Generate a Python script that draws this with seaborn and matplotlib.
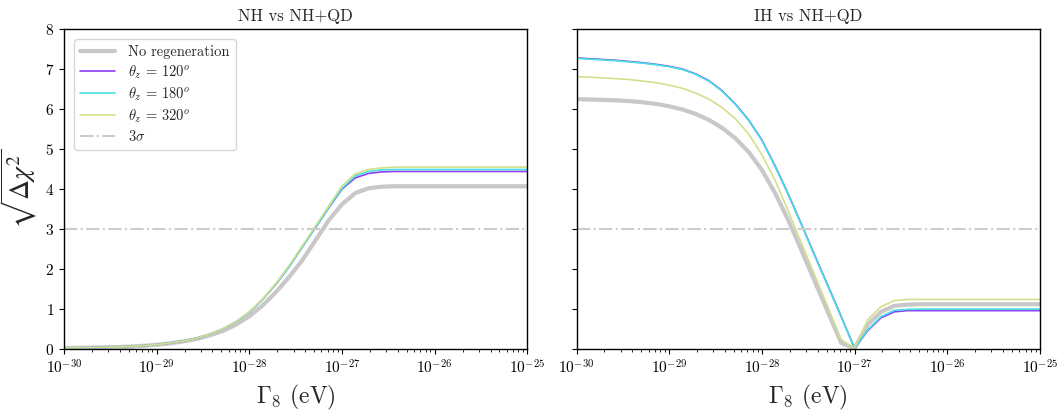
import numpy as np
import pandas as pd
import matplotlib
matplotlib.use("Agg")
import matplotlib.pyplot as plt
import seaborn as sns

# ---- data ----
log_gamma = [-30.0, -29.857, -29.714, -29.571, -29.429, -29.286, -29.143, -29.0,
             -28.857, -28.714, -28.571, -28.429, -28.286, -28.143, -28.0, -27.857,
             -27.714, -27.571, -27.429, -27.286, -27.143, -27.0, -26.857, -26.714,
             -26.571, -26.429, -26.286, -26.143, -26.0, -25.857, -25.714, -25.571,
             -25.429, -25.286, -25.143, -25.0]

# Left panel: NH vs NH+QD
nh_noregen = [0.025, 0.03, 0.035, 0.04, 0.05, 0.06, 0.08, 0.105, 0.14, 0.19, 0.25, 0.34,
              0.45, 0.61, 0.82, 1.09, 1.42, 1.80, 2.22, 2.72, 3.22, 3.62, 3.90, 4.02,
              4.06, 4.07, 4.07, 4.07, 4.07, 4.07, 4.07, 4.07, 4.07, 4.07, 4.07, 4.07]
nh_120 = [0.025, 0.03, 0.035, 0.04, 0.05, 0.065, 0.085, 0.11, 0.15, 0.20, 0.27, 0.37,
          0.50, 0.68, 0.92, 1.24, 1.62, 2.06, 2.55, 3.04, 3.53, 4.00, 4.28, 4.39,
          4.43, 4.44, 4.44, 4.44, 4.44, 4.44, 4.44, 4.44, 4.44, 4.44, 4.44, 4.44]
nh_180 = [0.025, 0.03, 0.035, 0.04, 0.05, 0.065, 0.085, 0.11, 0.15, 0.20, 0.27, 0.37,
          0.50, 0.68, 0.92, 1.24, 1.62, 2.06, 2.55, 3.04, 3.54, 4.02, 4.33, 4.44,
          4.48, 4.49, 4.49, 4.49, 4.49, 4.49, 4.49, 4.49, 4.49, 4.49, 4.49, 4.49]
nh_320 = [0.025, 0.03, 0.035, 0.04, 0.05, 0.065, 0.085, 0.11, 0.15, 0.20, 0.27, 0.37,
          0.50, 0.68, 0.93, 1.25, 1.64, 2.09, 2.58, 3.08, 3.58, 4.08, 4.38, 4.49,
          4.53, 4.55, 4.55, 4.55, 4.55, 4.55, 4.55, 4.55, 4.55, 4.55, 4.55, 4.55]

# Right panel: IH vs NH+QD
ih_noregen = [6.25, 6.24, 6.23, 6.22, 6.20, 6.17, 6.13, 6.07, 5.99, 5.88, 5.73, 5.53,
              5.27, 4.93, 4.48, 3.90, 3.22, 2.46, 1.69, 0.92, 0.15, 0.02, 0.61, 0.93,
              1.08, 1.11, 1.12, 1.12, 1.12, 1.12, 1.12, 1.12, 1.12, 1.12, 1.12, 1.12]
ih_120 = [7.28, 7.26, 7.24, 7.22, 7.19, 7.16, 7.12, 7.07, 7.00, 6.88, 6.71, 6.46,
          6.13, 5.73, 5.23, 4.58, 3.87, 3.11, 2.34, 1.58, 0.81, 0.02, 0.46, 0.78,
          0.93, 0.96, 0.96, 0.96, 0.96, 0.96, 0.96, 0.96, 0.96, 0.96, 0.96, 0.96]
ih_180 = [7.27, 7.25, 7.23, 7.21, 7.18, 7.15, 7.11, 7.06, 6.99, 6.87, 6.70, 6.45,
          6.12, 5.72, 5.22, 4.57, 3.86, 3.10, 2.33, 1.57, 0.80, 0.02, 0.48, 0.81,
          0.97, 0.99, 1.00, 1.00, 1.00, 1.00, 1.00, 1.00, 1.00, 1.00, 1.00, 1.00]
ih_320 = [6.81, 6.80, 6.78, 6.76, 6.74, 6.70, 6.66, 6.60, 6.52, 6.40, 6.25, 6.04,
          5.76, 5.38, 4.86, 4.22, 3.44, 2.64, 1.84, 1.04, 0.23, 0.02, 0.73, 1.06,
          1.21, 1.24, 1.24, 1.24, 1.24, 1.24, 1.24, 1.24, 1.24, 1.24, 1.24, 1.24]

sigma_level = 3.0
titles = ["NH vs NH+QD", "IH vs NH+QD"]
labels = ["No regeneration", r"$\theta_z\,=\,120^o$", r"$\theta_z\,=\,180^o$", r"$\theta_z\,=\,320^o$"]
xtick_exponents = [-30, -29, -28, -27, -26, -25]

# ---- style ----
sns.set_style("ticks")
plt.rcParams["font.family"] = ["cmr10", "DejaVu Serif"]
plt.rcParams["mathtext.fontset"] = "cm"
plt.rcParams["axes.formatter.use_mathtext"] = True
plt.rcParams["axes.unicode_minus"] = False
plt.rcParams["axes.edgecolor"] = "black"
plt.rcParams["xtick.color"] = "black"
plt.rcParams["ytick.color"] = "black"
plt.rcParams["xtick.major.size"] = 3.5
plt.rcParams["ytick.major.size"] = 3.5
plt.rcParams["xtick.minor.size"] = 2.0
plt.rcParams["xtick.major.pad"] = 3.5
plt.rcParams["ytick.major.pad"] = 3.5

colors = ["#c8c8c8", "#8f3cf5", "#45e0e0", "#d3df8c"]
widths = [3.0, 1.2, 1.2, 1.2]

gamma = 10.0 ** np.array(log_gamma)
panels = [[nh_noregen, nh_120, nh_180, nh_320], [ih_noregen, ih_120, ih_180, ih_320]]

fig, axes = plt.subplots(1, 2, figsize=(10.6, 4.16), dpi=100, sharey=True)
fig.subplots_adjust(left=0.0604, right=0.981, top=0.930, bottom=0.161, wspace=0.106)

for ax, series, title in zip(axes, panels, titles):
    for ys, lab, c, lw in zip(series, labels, colors, widths):
        df = pd.DataFrame({"g": gamma, "y": ys})
        sns.lineplot(data=df, x="g", y="y", ax=ax, color=c, lw=lw, label=lab, legend=False)
    ax.axhline(sigma_level, color="#cccccc", lw=1.5, ls="-.", label=r"$3\sigma$")
    ax.set_xscale("log")
    ax.set_xticks([10.0 ** e for e in xtick_exponents])
    ax.set_xticklabels([r"$10^{%d}$" % e for e in xtick_exponents])
    ax.set_xlim(1e-30, 1e-25)
    ax.set_ylim(0, 8)
    ax.set_title(title, fontsize=12)
    ax.set_xlabel(r"$\Gamma_8$ (eV)", fontsize=17)
    ax.set_ylabel("")
    ax.tick_params(axis="both", which="major", labelsize=11)
    for sp in ax.spines.values():
        sp.set_visible(True)
        sp.set_linewidth(1.0)

axes[0].set_ylabel(r"$\sqrt{\Delta\chi^2}$", fontsize=20, labelpad=4, math_fontfamily="stix")
axes[0].legend(loc="upper left", fontsize=10.5, framealpha=0.8, labelspacing=0.3,
               handlelength=2.4, handletextpad=0.9, borderaxespad=0.7)

fig.savefig("out.png", dpi=100)
